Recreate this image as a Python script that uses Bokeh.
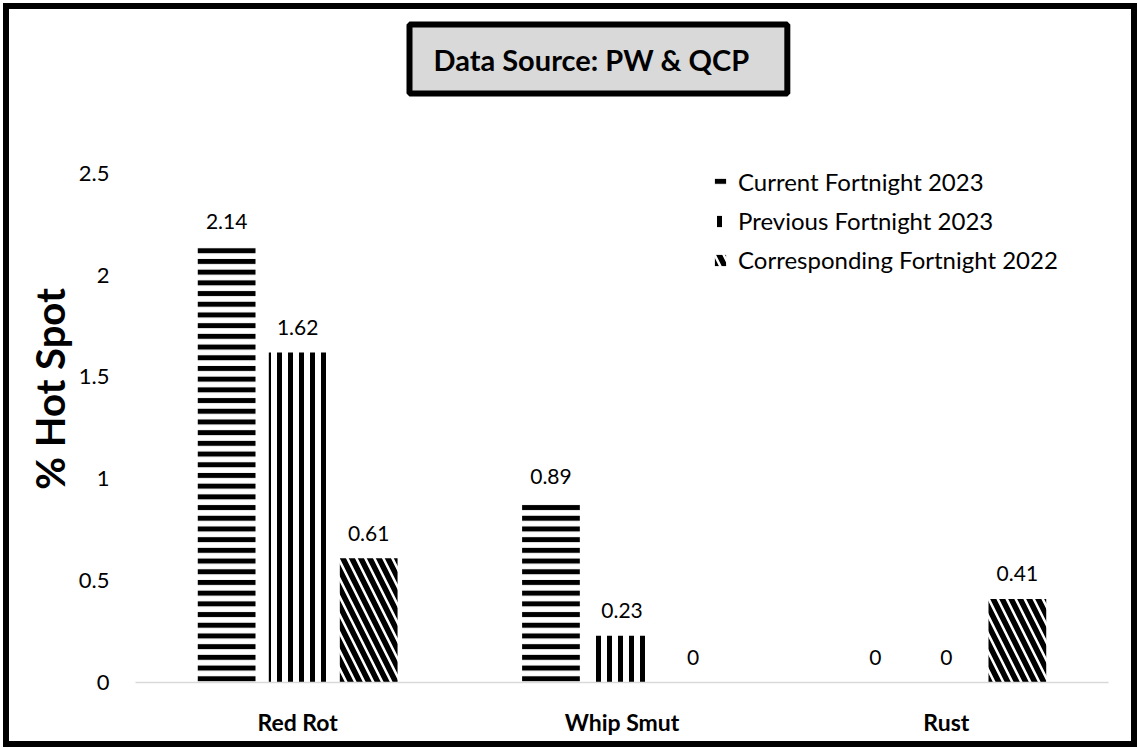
from bokeh.plotting import figure
from bokeh.models import (Range1d, FixedTicker, Title, LabelSet, ColumnDataSource,
                          Legend, LegendItem)
from bokeh.core.properties import value
from bokeh.embed import file_html
from bokeh.resources import INLINE

categories = ["Red Rot", "Whip Smut", "Rust"]
series_names = ["Current Fortnight 2023", "Previous Fortnight 2023", "Corresponding Fortnight 2022"]
current_2023 = [2.14, 0.89, 0.0]
previous_2023 = [1.62, 0.23, 0.0]
corresponding_2022 = [0.61, 0.0, 0.41]
y_ticks = [0, 0.5, 1, 1.5, 2, 2.5]
y_tick_labels = ["0", "0.5", "1", "1.5", "2", "2.5"]

FONT = "Lato"
W, H = 1134, 744

title = Title(text="Data Source: PW & QCP", align="left", offset=274, standoff=4,
              text_font=FONT, text_font_size="29px", text_font_style="bold",
              text_color="black", background_fill_color="#d9d9d9",
              border_line_color="black", border_line_width=6,
              padding=dict(left=24, right=38, top=17, bottom=17))

p = figure(width=W, height=H, output_backend="svg", toolbar_location=None,
           x_range=Range1d(0, len(categories)), y_range=Range1d(0, 2.882),
           min_border_left=126, min_border_right=35, min_border_top=86,
           min_border_bottom=71, title=title)
p.styles = {"border": "6px solid black", "margin": "3px 0 0 3px"}
p.outline_line_color = None
p.xgrid.grid_line_color = None
p.ygrid.grid_line_color = None
p.background_fill_color = "white"
p.border_fill_color = "white"

offsets = [-0.219, 0.0, 0.219]
bar_w = 0.178
hatches = ["horizontal_line", "vertical_line", "left_diagonal_line"]
scales = [10.7, 11, 18]
weights = [5, 5, 5.5]
series = [current_2023, previous_2023, corresponding_2022]
renderers = []
for vals, off, hp, hs, hw in zip(series, offsets, hatches, scales, weights):
    xs = [i + 0.5 + off for i in range(len(categories))]
    src = ColumnDataSource(dict(x=xs, top=vals, lab=[f"{v:g}" for v in vals]))
    r = p.vbar(x="x", top="top", width=bar_w, bottom=0, source=src,
               fill_color="white", line_color=None,
               hatch_pattern=hp, hatch_color="black", hatch_scale=hs, hatch_weight=hw)
    renderers.append(r)
    p.add_layout(LabelSet(x="x", y="top", text="lab", source=src,
                          text_align="center", text_baseline="middle", y_offset=25,
                          text_font=value(FONT), text_font_size="21px",
                          text_color="black"))

# axes
p.xaxis.ticker = FixedTicker(ticks=[i + 0.5 for i in range(len(categories))])
p.xaxis.major_label_overrides = {i + 0.5: c for i, c in enumerate(categories)}
p.xaxis.axis_line_color = "#d9d9d9"
p.xaxis.axis_line_width = 1.5
p.xaxis.major_tick_line_color = None
p.xaxis.minor_tick_line_color = None
p.xaxis.major_label_standoff = 19
p.xaxis.major_label_text_font = FONT
p.xaxis.major_label_text_font_size = "23px"
p.xaxis.major_label_text_font_style = "bold"
p.xaxis.major_label_text_color = "black"

p.yaxis.ticker = FixedTicker(ticks=y_ticks)
p.yaxis.major_label_overrides = {t: l for t, l in zip(y_ticks, y_tick_labels)}
p.yaxis.axis_line_color = None
p.yaxis.major_tick_line_color = None
p.yaxis.minor_tick_line_color = None
p.yaxis.major_label_standoff = 20
p.yaxis.major_label_text_font = FONT
p.yaxis.major_label_text_font_size = "22px"
p.yaxis.major_label_text_color = "black"
p.yaxis.axis_label = "% Hot Spot"
p.yaxis.axis_label_text_font = FONT
p.yaxis.axis_label_text_font_size = "40px"
p.yaxis.axis_label_text_font_style = "bold"
p.yaxis.axis_label_text_color = "black"
p.yaxis.axis_label_standoff = 2

legend = Legend(items=[LegendItem(label=n, renderers=[r]) for n, r in zip(series_names, renderers)],
                location=(578, 408), orientation="vertical",
                glyph_width=14, glyph_height=14, label_standoff=11,
                label_height=29, spacing=10, padding=0, margin=0,
                label_text_font=FONT, label_text_font_size="24px",
                label_text_color="black", border_line_color=None,
                background_fill_alpha=0)
p.add_layout(legend)

open("out.html", "w").write(file_html(p, INLINE))
